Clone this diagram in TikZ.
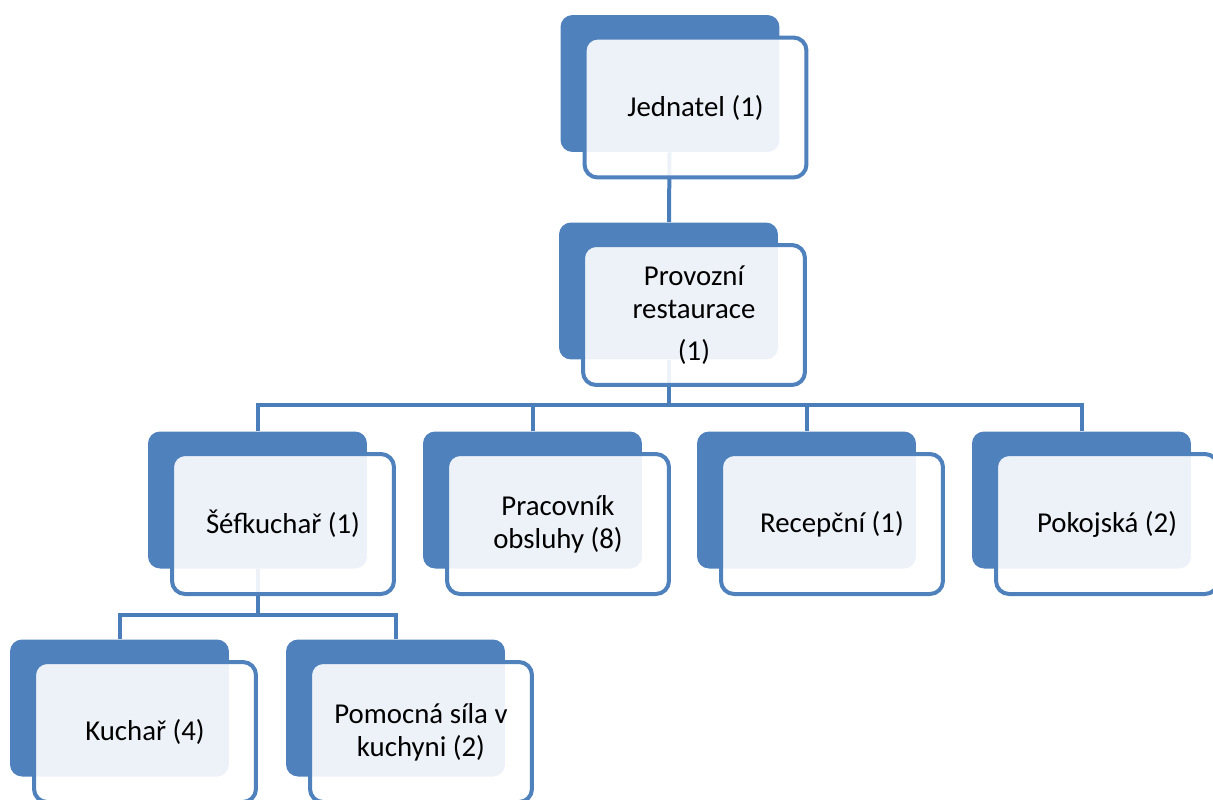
\documentclass[tikz,border=0pt]{standalone}
\usepackage{fontspec}
\setmainfont{Carlito}
\usetikzlibrary{positioning,backgrounds}
\definecolor{boxblue}{HTML}{4F81BD}
\definecolor{lineblue}{HTML}{4A7EBB}

\begin{document}
\begin{tikzpicture}[x=0.02cm, y=-0.02cm,
    back/.style = {fill=boxblue, rounded corners=0.24cm, inner sep=0pt,
                   minimum width=4.38cm, minimum height=2.74cm},
    front/.style = {draw=boxblue, line width=0.08cm, fill=white, fill opacity=0.9,
                    text opacity=1, rounded corners=0.26cm, inner sep=0pt,
                    minimum width=4.44cm, minimum height=2.80cm, align=center,
                    font=\fontsize{16.4}{18.8}\selectfont},
    conn/.style = {draw=lineblue, line width=0.08cm}]
  \useasboundingbox (0,0) rectangle (1213,799);

  % top
  \node[back]  (jedb)  at (670,83.5) {};
  \node[front] (jed)   at (695.5,107.5) {Jednatel (1)};
  \node[back]  (provb) at (668.5,291) {};
  \node[front] (prov)  at (694,315) {Provozní\\restaurace\\[0.18cm](1)};

  % second row
  \node[back]  (sefb)  at (257.5,500) {};
  \node[front] (sef)   at (283,524) {Šéfkuchař (1)};
  \node[back]  (pracb) at (532.5,500) {};
  \node[front] (prac)  at (558,524) {Pracovník\\obsluhy (8)};
  \node[back]  (recb)  at (806.5,500) {};
  \node[front] (rec)   at (832,524) {Recepční (1)};
  \node[back]  (pokb)  at (1081.5,500) {};
  \node[front] (pok)   at (1107,524) {Pokojská (2)};

  % kitchen
  \node[back]  (kuchb) at (119.5,708) {};
  \node[front] (kuch)  at (145,732) {Kuchař (4)};
  \node[back]  (pomb)  at (395.5,708) {};
  \node[front] (pom)   at (421,732) {Pomocná síla v\\kuchyni (2)};

  \begin{scope}[on background layer]
    \coordinate (bus1) at (668.5,405);
    \coordinate (bus2) at (257.5,615);
    \draw[conn] (jedb) -- (provb);
    \draw[conn] (provb) -- (bus1);
    \draw[conn] (bus1) -| (sefb);
    \draw[conn] (bus1) -| (pracb);
    \draw[conn] (bus1) -| (recb);
    \draw[conn] (bus1) -| (pokb);
    \draw[conn] (sefb) -- (bus2);
    \draw[conn] (bus2) -| (kuchb);
    \draw[conn] (bus2) -| (pomb);
  \end{scope}
\end{tikzpicture}
\end{document}
